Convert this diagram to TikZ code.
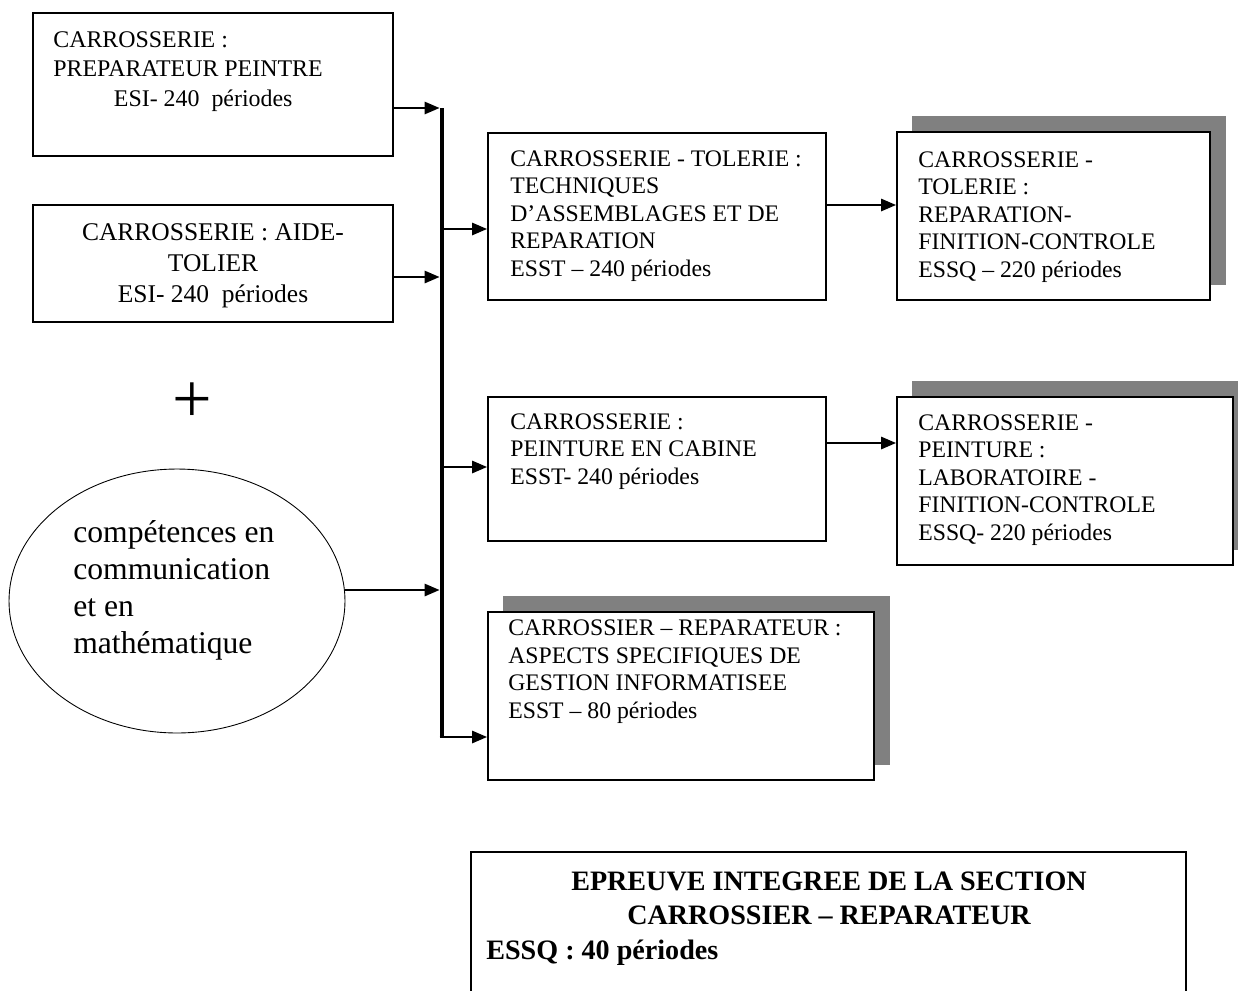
\documentclass[tikz,border=0pt]{standalone}
\usepackage{fontspec}
\setmainfont{Liberation Serif}
\usetikzlibrary{arrows.meta,fit,shapes.geometric,backgrounds}
\begin{document}
\begin{tikzpicture}[x=0.02cm,y=-0.02cm,
  box/.style={draw,line width=1.1pt,fill=white,inner sep=0pt,rectangle},
  shadowfill/.style={fill=black!50},
  arr/.style={line width=1.1pt,-{Triangle[length=8.5pt,width=7pt]}},
  bus/.style={line width=2.8pt},
  txt/.style={inner sep=0pt,align=left,anchor=base west,font=\fontsize{13.5pt}{15.6pt}\selectfont},
]
\useasboundingbox (0,0) rectangle (1238,991);
\clip (0,0) rectangle (1238,991);

% boxes
\node[box,fit={(33,13) (393,156)}] (A) {};
\node[box,fit={(33,205) (393,322)}] (B) {};
\node[box,fit={(488,133) (826,300)}] (C) {};
\node[box,fit={(488,397) (826,541)}] (D) {};
\node[box,fit={(488,612) (874,780)}] (E) {};
\node[box,fit={(897,132) (1210,300)}] (F) {};
\node[box,fit={(897,397) (1233,565)}] (G) {};
\node[box,fit={(471,852) (1186,1010)}] (H) {};

% shadows
\begin{scope}[on background layer]
  \fill[shadowfill] ([shift={(15.5,-15.5)}]E.south west) rectangle ([shift={(15.5,-15.5)}]E.north east);
  \fill[shadowfill] ([shift={(15.5,-15.5)}]F.south west) rectangle ([shift={(15.5,-15.5)}]F.north east);
  \fill[shadowfill] ([shift={(15.5,-15.5)}]G.south west) rectangle ([shift={(15.5,-15.5)}]G.north east);
\end{scope}

% ellipse
\node[draw,ellipse,line width=0.5pt,minimum width=6.72cm,minimum height=5.28cm,inner sep=0pt] (ell) at (177,601) {};

% texts (anchor = baseline of the last line)
\node[txt,font=\fontsize{13.6pt}{16.7pt}\selectfont] (At) at (53,106) {CARROSSERIE :\\PREPARATEUR PEINTRE\\\hspace*{34.5pt}ESI-~240~~périodes};
\node[txt,align=center,anchor=base,font=\fontsize{14.5pt}{17.6pt}\selectfont] (Bt) at (213,302) {CARROSSERIE : AIDE-\\TOLIER\\ESI-~240~~périodes};
\node[txt] (Ct) at (510,276) {CARROSSERIE - TOLERIE :\\TECHNIQUES\\D’ASSEMBLAGES ET DE\\REPARATION\\ESST – 240 périodes};
\node[txt] (Dt) at (510,484) {CARROSSERIE :\\PEINTURE EN CABINE\\ESST- 240 périodes};
\node[txt] (Et) at (508,718) {CARROSSIER – REPARATEUR :\\ASPECTS SPECIFIQUES DE\\GESTION INFORMATISEE\\ESST – 80 périodes};
\node[txt] (Ft) at (918,277) {CARROSSERIE -\\TOLERIE :\\REPARATION-\\FINITION-CONTROLE\\ESSQ – 220 périodes};
\node[txt] (Gt) at (918,540) {CARROSSERIE -\\PEINTURE :\\LABORATOIRE -\\FINITION-CONTROLE\\ESSQ- 220 périodes};
\node[txt,font=\fontsize{18pt}{21pt}\selectfont] (ellt) at (73,653) {compétences en\\communication\\et en\\mathématique};
\node[txt,align=center,anchor=base,font=\bfseries\fontsize{16pt}{19pt}\selectfont] (Ht) at (829,924) {EPREUVE INTEGREE DE LA SECTION\\CARROSSIER – REPARATEUR};
\node[txt,font=\bfseries\fontsize{16pt}{19pt}\selectfont] (Hs) at (486,959) {ESSQ : 40 périodes};
\node[inner sep=0pt,font=\fontsize{40pt}{40pt}\selectfont] (plus) at (192,403) {+};

% bus
\coordinate (bA) at (442,108);
\coordinate (bB) at (442,277);
\coordinate (bE) at (442,590);
\coordinate (oC) at (442,229);
\coordinate (oD) at (442,467);
\coordinate (bb) at (442,737);
\draw[bus] (bA) -- (bb);

\draw[arr] (A.east |- bA) -- ([xshift=-1.4pt]bA);
\draw[arr] (B.east |- bB) -- ([xshift=-1.4pt]bB);
\draw[arr] (ell.east |- bE) -- ([xshift=-1.4pt]bE);
\draw[arr] (oC) -- (C.west |- oC);
\draw[arr] (oD) -- (D.west |- oD);
\draw[arr] ([xshift=-1.4pt]bb) -- (E.west |- bb);

\coordinate (cf) at (826,205);
\coordinate (dg) at (826,443);
\draw[arr] (cf) -- (F.west |- cf);
\draw[arr] (dg) -- (G.west |- dg);
\end{tikzpicture}
\end{document}
